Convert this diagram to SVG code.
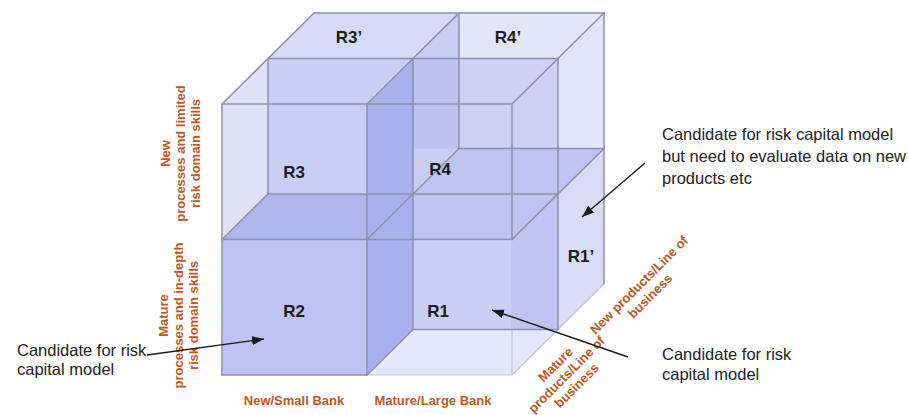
<svg xmlns="http://www.w3.org/2000/svg" width="908" height="415" viewBox="0 0 908 415">
<style>
  .edge{stroke:#8c91aa;stroke-width:1.5;fill:none;stroke-linecap:round}
  .faint{stroke:#c3c7da;stroke-width:1.2;fill:none}
  .rl{font-family:"Liberation Sans",Arial,sans-serif;font-weight:bold;font-size:17px;fill:#1c1c1c;text-anchor:middle}
  .ax{font-family:"Liberation Sans",Arial,sans-serif;font-weight:bold;font-size:13px;fill:#c0581f;text-anchor:middle}
  .axd{font-family:"Liberation Sans",Arial,sans-serif;font-weight:bold;font-size:13px;fill:#c0581f;text-anchor:middle;dominant-baseline:central}
  .cl{font-family:"Liberation Sans",Arial,sans-serif;font-size:16.5px;fill:#222}
  .conn{stroke:#1a1a1a;stroke-width:1.4;fill:none}
</style>
<defs>
  <marker id="ah" markerUnits="userSpaceOnUse" markerWidth="13" markerHeight="10" refX="12" refY="4.5" orient="auto">
    <path d="M0,0 L12,4.5 L0,9 z" fill="#1a1a1a"/>
  </marker>
</defs>
<rect width="908" height="415" fill="#ffffff"/>

<g id="cube">
  <polygon points="222,104 314,13 604,13 604,284 512,375 222,375" fill="#e3e6f8"/>
  <polygon points="268,58.5 413,58.5 459,13 314,13" fill="#d6daf6"/>
  <polygon points="413,58.5 459,13 459,148.5 413,194" fill="#c8cdf3"/>
  <rect x="268" y="58.5" width="145" height="135.5" fill="#c9cef5"/>
  <rect x="459" y="58.5" width="99" height="90" fill="#cdd2f5"/>
  <rect x="413" y="58.5" width="46" height="90" fill="#bcc3f0"/>
  <polygon points="413,194 459,148.5 604,148.5 558,194" fill="#bec4f1"/>
  <polygon points="512,239.5 604,148.5 604,284 512,375" fill="#d8dcf5"/>
  <polygon points="512,239.5 558,194 558,329.5 512,375" fill="#d2d6f4"/>
  <polygon points="512,239.5 558,194 558,329.5 512,329.5" fill="#bfc5f1"/>
  <rect x="413" y="239.5" width="99" height="90" fill="#c9cff5"/>
  <polygon points="367,239.5 512,239.5 558,194 413,194" fill="#bec4f1"/>
  <polygon points="222,104 268,58.5 268,194 222,239.5" fill="#dee1f8"/>
  <polygon points="222,239.5 367,239.5 413,194 268,194" fill="#afb6ee"/>
  <polygon points="367,104 413,58.5 413,329.5 367,375" fill="#a9b1ec"/>
  <polygon points="367,375 512,375 558,329.5 413,329.5" fill="#e4e7f9"/>
  <rect x="222" y="239.5" width="145" height="135.5" fill="#bdc3f2"/>
</g>

<g id="cube-edges">
  <line class="faint" x1="367" y1="375" x2="512" y2="375"/>
  <line class="faint" x1="512" y1="239.5" x2="512" y2="375"/>
  <polyline class="faint" points="604,284 558,329.5 512,375"/>
  <line class="edge" x1="314" y1="13" x2="604" y2="13"/>
  <line class="edge" x1="314" y1="13" x2="222" y2="104"/>
  <line class="edge" x1="459" y1="13" x2="367" y2="104"/>
  <line class="edge" x1="604" y1="13" x2="512" y2="104"/>
  <line class="edge" x1="268" y1="58.5" x2="558" y2="58.5"/>
  <line class="edge" x1="222" y1="104" x2="512" y2="104"/>
  <line class="edge" x1="222" y1="104" x2="222" y2="375"/>
  <line class="edge" x1="268" y1="58.5" x2="268" y2="194"/>
  <line class="edge" x1="367" y1="104" x2="367" y2="375"/>
  <line class="edge" x1="413" y1="58.5" x2="413" y2="329.5"/>
  <line class="edge" x1="459" y1="13" x2="459" y2="148.5"/>
  <line class="edge" x1="512" y1="104" x2="512" y2="239.5"/>
  <line class="edge" x1="558" y1="58.5" x2="558" y2="329.5"/>
  <line class="edge" x1="604" y1="13" x2="604" y2="284"/>
  <line class="edge" x1="459" y1="148.5" x2="604" y2="148.5"/>
  <line class="edge" x1="268" y1="194" x2="558" y2="194"/>
  <line class="edge" x1="222" y1="239.5" x2="512" y2="239.5"/>
  <line class="edge" x1="268" y1="194" x2="222" y2="239.5"/>
  <line class="edge" x1="459" y1="148.5" x2="367" y2="239.5"/>
  <line class="edge" x1="604" y1="148.5" x2="512" y2="239.5"/>
  <line class="edge" x1="413" y1="329.5" x2="558" y2="329.5"/>
  <line class="edge" x1="413" y1="329.5" x2="367" y2="375"/>
  <line class="edge" x1="222" y1="375" x2="367" y2="375"/>
</g>

<g id="region-labels">
  <text id="R3p" class="rl" x="349" y="43">R3’</text>
  <text id="R4p" class="rl" x="508" y="43">R4’</text>
  <text id="R3" class="rl" x="294" y="178">R3</text>
  <text id="R4" class="rl" x="440" y="175">R4</text>
  <text id="R2" class="rl" x="294" y="317">R2</text>
  <text id="R1" class="rl" x="438" y="317">R1</text>
  <text id="R1p" class="rl" x="581" y="262">R1’</text>
</g>

<g id="axis-left-top" transform="translate(0,153.5)">
  <text class="ax" transform="translate(170,0) rotate(-90)">New</text>
  <text class="ax" transform="translate(185,0) rotate(-90)">processes and limited</text>
  <text class="ax" transform="translate(199.5,0) rotate(-90)">risk domain skills</text>
</g>
<g id="axis-left-bottom" transform="translate(0,315.5)">
  <text class="ax" transform="translate(168,0) rotate(-90)">Mature</text>
  <text class="ax" transform="translate(183,0) rotate(-90)">processes and in-depth</text>
  <text class="ax" transform="translate(198,0) rotate(-90)">risk domain skills</text>
</g>
<g id="axis-bottom">
  <text class="ax" x="294" y="405">New/Small Bank</text>
  <text class="ax" x="433" y="405">Mature/Large Bank</text>
</g>
<g id="axis-depth-mature">
  <text class="axd" transform="translate(555.5,364.5) rotate(-45)">Mature</text>
  <text class="axd" transform="translate(566.5,374.5) rotate(-45)">products/Line of</text>
  <text class="axd" transform="translate(576.5,385.5) rotate(-45)">business</text>
</g>
<g id="axis-depth-new">
  <text class="axd" transform="translate(639,285) rotate(-45)">New products/Line of</text>
  <text class="axd" transform="translate(650,296) rotate(-45)">business</text>
</g>

<g id="callout-top-right">
  <text class="cl" x="662" y="140">Candidate for risk capital model</text>
  <text class="cl" x="662" y="162">but need to evaluate data on new</text>
  <text class="cl" x="662" y="184">products etc</text>
</g>
<g id="callout-bottom-right">
  <text class="cl" x="662" y="360">Candidate for risk</text>
  <text class="cl" x="662" y="380">capital model</text>
</g>
<g id="callout-bottom-left">
  <text class="cl" x="17" y="356">Candidate for risk</text>
  <text class="cl" x="17" y="375">capital model</text>
</g>

<g id="connectors">
  <line class="conn" x1="645" y1="163" x2="582" y2="217" marker-end="url(#ah)"/>
  <line class="conn" x1="628" y1="357" x2="492" y2="310" marker-end="url(#ah)"/>
  <line class="conn" x1="147" y1="355" x2="264" y2="339" marker-end="url(#ah)"/>
</g>
</svg>
